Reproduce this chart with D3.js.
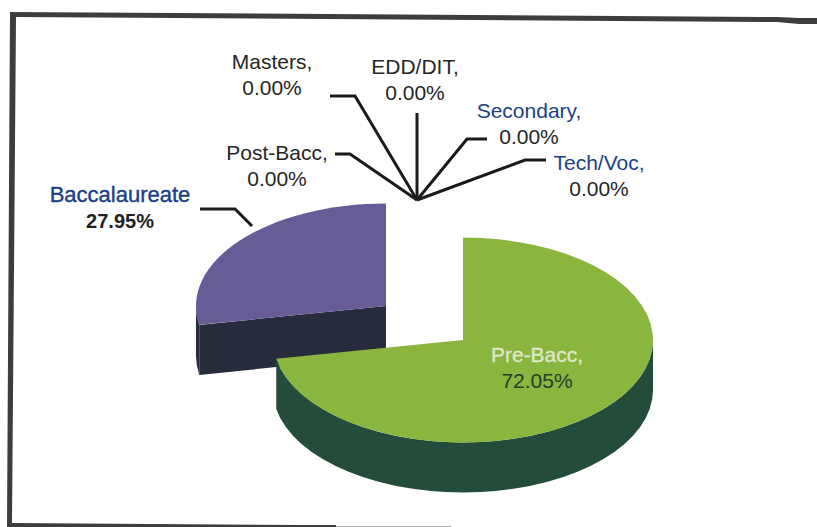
<!DOCTYPE html>
<html><head><meta charset="utf-8">
<script src="https://cdn.jsdelivr.net/npm/d3@7/dist/d3.min.js"></script>
<style>html,body{margin:0;padding:0;background:#fff}svg{display:block}text{font-family:"Liberation Sans",Arial,sans-serif;font-size:21px}</style>
</head><body><div id="c"></div>
<script>
const categories = ["Pre-Bacc,","Baccalaureate","Post-Bacc,","Masters,","EDD/DIT,","Secondary,","Tech/Voc,"];
const shares = [72.05,27.95,0,0,0,0,0];
const percentLabels = ["72.05%","27.95%","0.00%","0.00%","0.00%","0.00%","0.00%"];
const W=817,H=527;
const svg=d3.select("#c").append("svg").attr("width",W).attr("height",H);
svg.append("rect").attr("width",W).attr("height",H).attr("fill","#fff");
// scanned frame: left, top and bottom edges only
svg.append("path").attr("d","M7,527 L10,12 L777,17 L799,18 L817,18 L817,24 L799,24 L777,22 L16,17 L12,523 L300,525 L336,525 L336,527 Z").attr("fill","#3d3d3d");
svg.append("rect").attr("x",336).attr("y",526).attr("width",115).attr("height",1).attr("fill","#aaa");

const pie=d3.pie().value(d=>d).sort(null);
const arcs=pie(shares);
const rx=190, ry=102.5, depth=50;
const centers=[{x:463,y:340,top:"#8ab53f",wall:"#234c3a",cut:"#234c3a"},{x:386,y:306,top:"#675c97",wall:"#262c3b",cut:"#262c3b"}];
const pt=(c,a,dy=0)=>[c.x+rx*Math.sin(a), c.y+ry*-Math.cos(a)+dy];
const arcGen=d3.arc().innerRadius(0).outerRadius(1);
function wallPath(c,a0,a1){
  const s=Math.max(a0,Math.PI/2), e=Math.min(a1,3*Math.PI/2);
  if(e<=s) return "";
  const p0=pt(c,s),p1=pt(c,e);
  const large=e-s>Math.PI?1:0;
  return `M${p0} A${rx},${ry} 0 ${large} 1 ${p1} L${p1[0]},${p1[1]+depth} A${rx},${ry} 0 ${large} 0 ${p0[0]},${p0[1]+depth} Z`;
}
function cutPath(c,a){const p=pt(c,a);return `M${c.x},${c.y} L${p} L${p[0]},${p[1]+depth} L${c.x},${c.y+depth} Z`;}
// back slice first, then the exploded front slice over it
[1,0].forEach(i=>{
  const c=centers[i],d=arcs[i],g=svg.append("g").attr("class","slice");
  if(i===1) g.append("path").attr("d",cutPath(c,d.startAngle)).attr("fill",c.cut);
  g.append("path").attr("d",wallPath(c,d.startAngle,d.endAngle)).attr("fill",c.wall);
  g.append("path").attr("d",arcGen(d)).attr("transform",`translate(${c.x},${c.y}) scale(${rx},${ry})`).attr("fill",c.top);
});

// leader lines
const leaders=[
 [[200,209],[235,209],[252,226]],
 [[335,154],[350,154],[417,200]],
 [[330,96],[355,96],[417,200]],
 [[417,113],[417,200]],
 [[487,139],[467,139],[417,200]],
 [[546,160],[525,160],[417,200]]
];
const line=d3.line();
leaders.forEach(p=>svg.append("path").attr("d",line(p)).attr("fill","none").attr("stroke","#1a1a1a").attr("stroke-width",3));

// labels
const blue="#1c3f86", dark="#262626";
const labels=[
 {i:0,x:537,y:362,c1:"#dfe8cc",c2:"#24402a",sw:0.3},
 {i:1,x:120,y:202,c1:blue,c2:"#222",bold:true,sw:0.4},
 {i:2,x:277,y:160,c1:dark,c2:dark},
 {i:3,x:272,y:69,c1:dark,c2:dark},
 {i:4,x:415,y:74,c1:dark,c2:dark},
 {i:5,x:529,y:118,c1:blue,c2:dark},
 {i:6,x:599,y:170,c1:blue,c2:dark}
];
labels.forEach(l=>{
  const t=svg.append("text").attr("text-anchor","middle");
  t.append("tspan").attr("x",l.x).attr("y",l.y).attr("fill",l.c1).attr("stroke",l.sw?l.c1:null).attr("stroke-width",l.sw||null).attr("font-size",l.bold?"22px":null).text(categories[l.i]);
  t.append("tspan").attr("x",l.x).attr("y",l.y+26).attr("fill",l.c2).attr("font-weight",l.bold?"bold":null).attr("font-size",l.bold?"20px":null).text(percentLabels[l.i]);
});
</script></body></html>
